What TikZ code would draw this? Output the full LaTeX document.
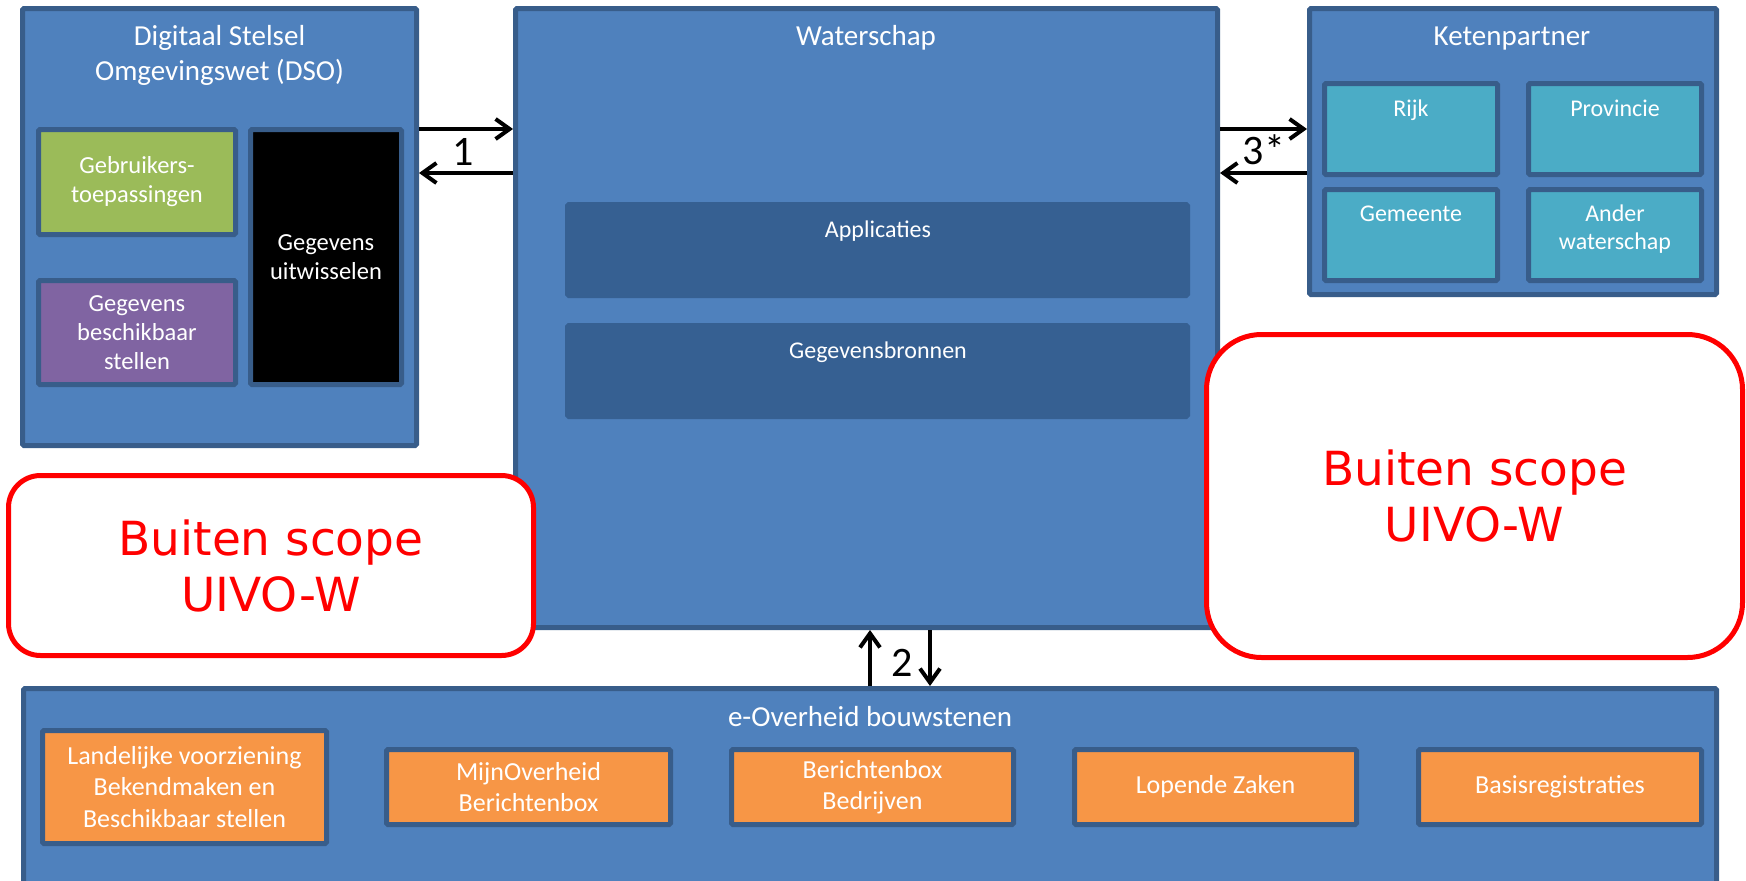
\documentclass[tikz,border=0pt]{standalone}
\usepackage{fontspec}
\setmainfont{Carlito}
\newfontfamily\scopefont{DejaVu Sans}
\usetikzlibrary{arrows.meta,calc}
\definecolor{wsblue}{HTML}{4F81BD}
\definecolor{wsborder}{HTML}{385D8A}
\definecolor{wsdark}{HTML}{366092}
\definecolor{wsgreen}{HTML}{9BBB59}
\definecolor{wspurple}{HTML}{8064A2}
\definecolor{wsteal}{HTML}{4BACC6}
\definecolor{wsorange}{HTML}{F79646}
\newcommand\mkbox[7]{\node[blk,#1,minimum width={#5-#3-5},minimum height={#6-#4-5}] (#2) at (#3,#4) {#7};}
\tikzset{
  blk/.style={draw=wsborder,line width=5pt,inner sep=0pt,outer sep=2.5pt,anchor=north west,rounded corners=1.5pt,text=white,align=center,font=\fontsize{24.5}{29}\selectfont},
  bigbox/.style={fill=wsblue},
  greenbox/.style={fill=wsgreen},
  purplebox/.style={fill=wspurple},
  blackbox/.style={fill=black},
  tealbox/.style={fill=wsteal},
  darkbox/.style={fill=wsdark,draw=wsdark},
  orangebox/.style={fill=wsorange,font=\fontsize{26}{31.5}\selectfont},
  ttl/.style={text=white,font=\fontsize{29}{35}\selectfont,align=center,inner sep=0pt},
  sub/.style={text=white,font=\fontsize{24}{28}\selectfont,align=center,inner sep=0pt},
  outbox/.style={draw=red,line width=5pt,outer sep=2.5pt,fill=white,text=red,align=center,inner sep=0pt,anchor=north west,font=\scopefont\fontsize{47}{56}\selectfont},
  arr/.style={draw=black,line width=4pt,-{Straight Barb[length=14pt,width=20pt]}},
  num/.style={text=black,font=\fontsize{42}{42}\selectfont,inner sep=0pt},
}
\begin{document}
\begin{tikzpicture}[x=1pt,y=-1pt]
\useasboundingbox (0,0) rectangle (1746,881);
\clip (0,0) rectangle (1746,881);

% e-Overheid bouwstenen
\mkbox{bigbox}{eo}{21}{686}{1719}{910}{}
\node[ttl,anchor=base] (eoT) at (870,726) {e-Overheid bouwstenen};
\mkbox{orangebox}{lv}{40}{728}{329}{846}{Landelijke voorziening\\Bekendmaken en\\Beschikbaar stellen}
\mkbox{orangebox}{mo}{384}{747}{673}{827}{MijnOverheid\\Berichtenbox}
\mkbox{orangebox}{bb}{729}{747}{1016}{827}{Berichtenbox\\Bedrijven}
\mkbox{orangebox}{lz}{1072}{747}{1359}{827}{Lopende Zaken}
\mkbox{orangebox}{br}{1416}{747}{1704}{827}{Basisregistraties}

% DSO
\mkbox{bigbox}{dso}{20}{6}{419}{448}{}
\node[ttl] (dsoT) at (219.5,55) {Digitaal Stelsel\\Omgevingswet (DSO)};
\mkbox{greenbox}{gt}{36}{127}{238}{237}{Gebruikers-\\toepassingen}
\mkbox{purplebox}{gb}{36}{278}{238}{387}{Gegevens\\beschikbaar\\stellen}
\mkbox{blackbox}{gu}{248}{127}{404}{387}{Gegevens\\uitwisselen}

% Waterschap
\mkbox{bigbox}{ws}{513}{6}{1220}{630}{}
\node[ttl,anchor=base] (wsT) at (866,45) {Waterschap};
\mkbox{darkbox}{ap}{565}{202}{1190}{298}{}
\node[sub,anchor=base] (apT) at (878,237) {Applicaties};
\mkbox{darkbox}{gg}{565}{323}{1190}{419}{}
\node[sub,anchor=base] (ggT) at (878,358) {Gegevensbronnen};

% Ketenpartner
\mkbox{bigbox}{kp}{1307}{6}{1719}{297}{}
\node[ttl,anchor=base] (kpT) at (1512,45) {Ketenpartner};
\mkbox{tealbox}{rk}{1322}{81}{1500}{177}{}
\node[sub,anchor=base] (rkT) at (1411,116) {Rijk};
\mkbox{tealbox}{pv}{1526}{81}{1704}{177}{}
\node[sub,anchor=base] (pvT) at (1615,116) {Provincie};
\mkbox{tealbox}{gm}{1322}{187}{1500}{283}{}
\node[sub,anchor=base] (gmT) at (1411,221) {Gemeente};
\mkbox{tealbox}{aw}{1526}{187}{1704}{283}{}
\node[sub] (awT) at (1615,229) {Ander\\waterschap};

% Buiten scope
\node[outbox,rounded corners=32pt,minimum width=525pt,minimum height=180pt] (outL) at (6,473) {Buiten scope\\UIVO-W};
\node[outbox,rounded corners=55pt,minimum width=536pt,minimum height=323pt] (outR) at (1204,332) {Buiten scope\\UIVO-W};

% connectors
\coordinate (a1) at (0,129);
\coordinate (a2) at (0,173);
\coordinate (b1) at (870,0);
\coordinate (b2) at (930,0);
\draw[arr] (dso.east |- a1) -- (ws.west |- a1);
\draw[arr] (ws.west |- a2) -- (dso.east |- a2);
\draw[arr] (ws.east |- a1) -- (kp.west |- a1);
\draw[arr] (kp.west |- a2) -- (ws.east |- a2);
\draw[arr] (eo.north -| b1) -- (ws.south -| b1);
\draw[arr] (ws.south -| b2) -- (eo.north -| b2);
\node[num] (l1) at (463,152) {1};
\node[num] (l3) at (1264,150) {3*};
\node[num] (l2) at (902,663) {2};
\end{tikzpicture}
\end{document}
